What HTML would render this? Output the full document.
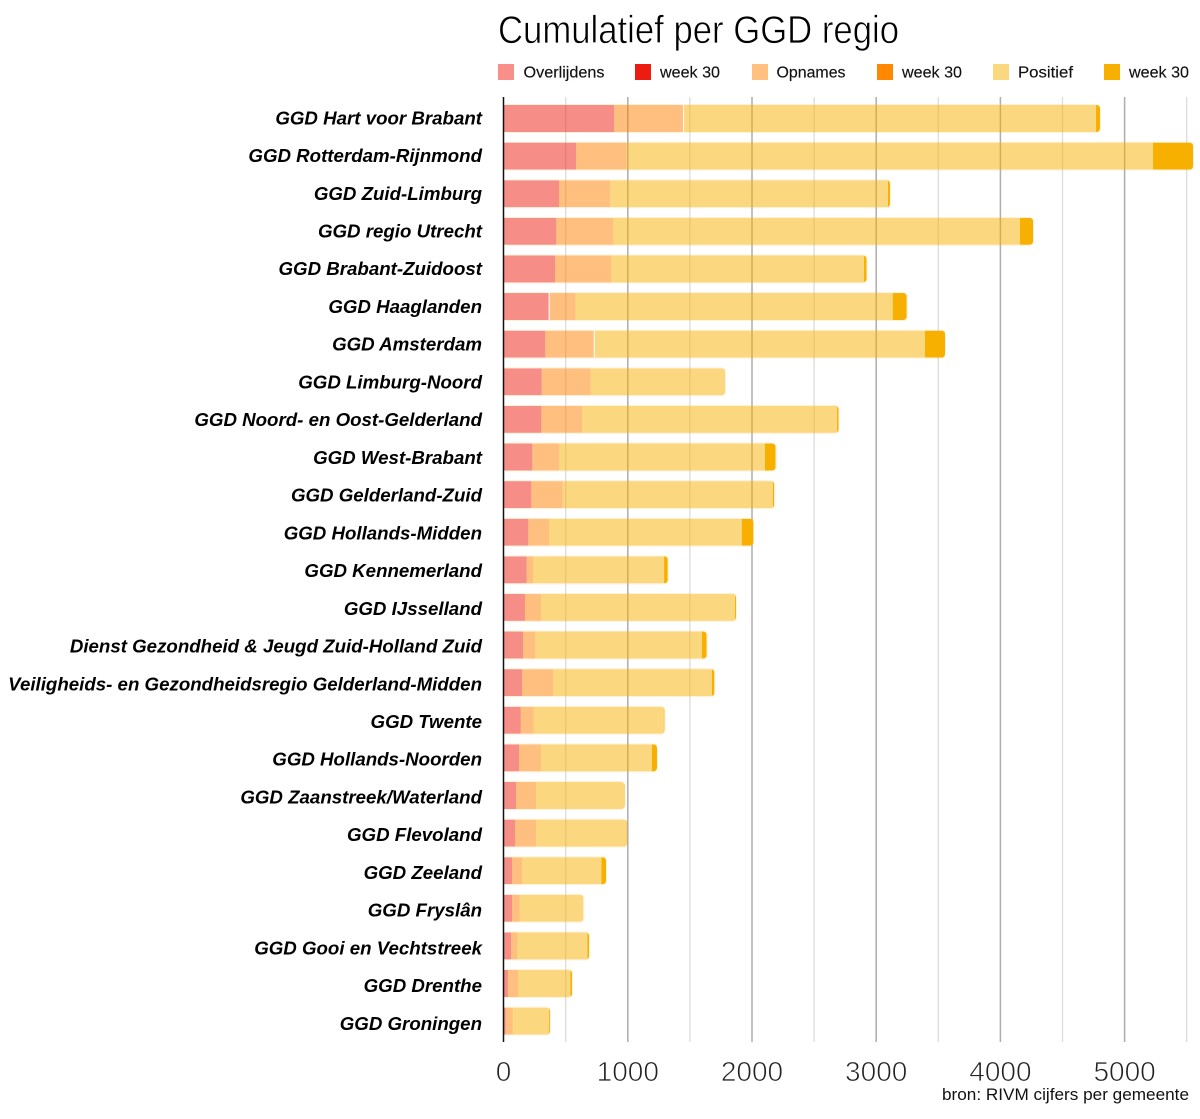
<!DOCTYPE html>
<html lang="nl">
<head>
<meta charset="utf-8">
<title>Cumulatief per GGD regio</title>
<style>
  html, body { margin: 0; padding: 0; background: #fff; }
  svg { display: block; font-family: "Liberation Sans", sans-serif; }
  .legend-text { font-size: 15.5px; fill: #111; stroke: #111; stroke-width: 0.15; }
  .thin { paint-order: fill; stroke: #fff; }
</style>
</head>
<body>
<svg id="chart" width="1200" height="1119" viewBox="0 0 1200 1119" xmlns="http://www.w3.org/2000/svg">
  <text class="thin" x="498" y="43" font-size="39" fill="#000" stroke-width="0.7" textLength="401" lengthAdjust="spacingAndGlyphs">Cumulatief per GGD regio</text>

  <g>
    <rect x="498" y="64" width="16" height="16" fill="#f88f88"/>
    <text class="legend-text" x="523.5" y="77.5" textLength="81" lengthAdjust="spacingAndGlyphs">Overlijdens</text>
    <rect x="635" y="64" width="16" height="16" fill="#ee1c10"/>
    <text class="legend-text" x="660" y="77.5" textLength="60" lengthAdjust="spacingAndGlyphs">week 30</text>
    <rect x="752" y="64" width="16" height="16" fill="#ffc080"/>
    <text class="legend-text" x="776.5" y="77.5" textLength="69" lengthAdjust="spacingAndGlyphs">Opnames</text>
    <rect x="877" y="64" width="16" height="16" fill="#ff8800"/>
    <text class="legend-text" x="902" y="77.5" textLength="60" lengthAdjust="spacingAndGlyphs">week 30</text>
    <rect x="993" y="64" width="16" height="16" fill="#fbd77f"/>
    <text class="legend-text" x="1018" y="77.5" textLength="55" lengthAdjust="spacingAndGlyphs">Positief</text>
    <rect x="1104" y="64" width="16" height="16" fill="#f7b000"/>
    <text class="legend-text" x="1129" y="77.5" textLength="60" lengthAdjust="spacingAndGlyphs">week 30</text>
  </g>

  <defs id="clips"></defs>
  <g id="grid"></g>
  <g id="bars"></g>
  <g id="labels"></g>
  <g id="ticks"></g>
  <line x1="503.5" y1="97" x2="503.5" y2="1042" stroke="#111" stroke-width="1.5"/>
  <text x="942" y="1100" font-size="17" fill="#111" textLength="247" lengthAdjust="spacingAndGlyphs">bron: RIVM cijfers per gemeente</text>
</svg>

<script>
const regions = ["GGD Hart voor Brabant","GGD Rotterdam-Rijnmond","GGD Zuid-Limburg","GGD regio Utrecht","GGD Brabant-Zuidoost","GGD Haaglanden","GGD Amsterdam","GGD Limburg-Noord","GGD Noord- en Oost-Gelderland","GGD West-Brabant","GGD Gelderland-Zuid","GGD Hollands-Midden","GGD Kennemerland","GGD IJsselland","Dienst Gezondheid & Jeugd Zuid-Holland Zuid","Veiligheids- en Gezondheidsregio Gelderland-Midden","GGD Twente","GGD Hollands-Noorden","GGD Zaanstreek/Waterland","GGD Flevoland","GGD Zeeland","GGD Fryslân","GGD Gooi en Vechtstreek","GGD Drenthe","GGD Groningen"];
const overlijdens = [889,583,446,424,414,363,336,307,304,231,223,199,186,172,156,148,138,124,100,92,68,68,60,35,15];
const overlijdensWeek30 = [0,0,0,0,0,8,0,0,0,0,0,0,0,0,0,0,0,0,0,0,0,0,0,0,0];
const opnames = [556,408,411,457,451,207,390,395,328,217,253,167,51,129,99,250,105,177,161,169,81,62,51,81,58];
const opnamesWeek30 = [8,0,0,0,0,0,8,0,0,0,0,0,0,0,0,0,0,0,0,0,0,0,0,0,0];
const positief = [3317,4238,2238,3277,2037,2555,2659,1081,2053,1656,1693,1552,1055,1562,1342,1280,1047,894,709,730,638,512,564,421,292];
const positiefWeek30 = [32,322,16,105,20,113,161,0,12,86,10,93,30,8,38,19,5,40,4,4,38,0,14,14,8];
const majorTicks = [0,1000,2000,3000,4000,5000];
const minorTicks = [500,1500,2500,3500,4500,5500];

const NS = "http://www.w3.org/2000/svg";
const xAxis = v => 503.6 + v * 0.1242;
const yAxis = i => 105 + i * 37.61;
const labelY = i => 124.3 + i * 37.73;
const barHeight = 27;

function mk(tag, attrs, parent) {
  const el = document.createElementNS(NS, tag);
  for (const k in attrs) el.setAttribute(k, attrs[k]);
  parent.appendChild(el);
  return el;
}

const gridG = document.getElementById("grid");
const barsG = document.getElementById("bars");
const labelsG = document.getElementById("labels");
const ticksG = document.getElementById("ticks");
const clipsG = document.getElementById("clips");

minorTicks.forEach(t => {
  const line = mk("line", {x1: xAxis(t), x2: xAxis(t), y1: 97, y2: 1042, stroke: "#dcdcdc", "stroke-width": 1.3}, gridG);
  
  
});
majorTicks.slice(1).forEach(t => {
  const line = mk("line", {x1: xAxis(t), x2: xAxis(t), y1: 97, y2: 1042, stroke: "#adadad", "stroke-width": 1.5}, gridG);
  
  
});
majorTicks.forEach(t => {
  const label = mk("text", {x: xAxis(t), y: 1081, "font-size": 28, "text-anchor": "middle", fill: "#222", stroke: "#fff", "stroke-width": 0.75}, ticksG);
  label.textContent = t;
  
  
});

const seriesList = [
  {name: "overlijdens", values: overlijdens, fill: "#ee1c10", opacity: 0.5},
  {name: "overlijdens-week-30", values: overlijdensWeek30, fill: "#ffffff", opacity: 0.75},
  {name: "opnames", values: opnames, fill: "#ff8000", opacity: 0.5},
  {name: "opnames-week-30", values: opnamesWeek30, fill: "#ffffff", opacity: 0.75},
  {name: "positief", values: positief, fill: "#f7b000", opacity: 0.5},
  {name: "positief-week-30", values: positiefWeek30, fill: "#f7b000", opacity: 1}
];

regions.forEach((region, i) => {
  const y = yAxis(i);
  const total = seriesList.reduce((sum, s) => sum + s.values[i], 0);
  const clip = mk("clipPath", {id: "row-clip-" + i}, clipsG);
  mk("rect", {x: xAxis(0) - 10, y: y, width: xAxis(total) - xAxis(0) + 10, height: barHeight, rx: 3.5, ry: 3.5}, clip);

  const rowG = mk("g", {"clip-path": "url(#row-clip-" + i + ")"}, barsG);
  
  

  let cumulative = 0;
  seriesList.forEach(s => {
    const v = s.values[i];
    if (v > 0) {
      const bar = mk("rect", {x: xAxis(cumulative), y: y, width: xAxis(cumulative + v) - xAxis(cumulative), height: barHeight, fill: s.fill, "fill-opacity": s.opacity}, rowG);
      
      
    }
    cumulative += v;
  });

  const outline = mk("rect", {x: xAxis(0), y: y - 0.5, width: xAxis(total) - xAxis(0) + 0.5, height: barHeight + 1, rx: 4, ry: 4, fill: "none", stroke: "#f7b000", "stroke-opacity": 0.15, "stroke-width": 1}, barsG);
  
  

  const label = mk("text", {x: 482, y: labelY(i), "font-size": 18.7, "font-weight": "bold", "font-style": "italic", "text-anchor": "end", fill: "#000"}, labelsG);
  label.textContent = region;
  
  
});
</script>
</body>
</html>
